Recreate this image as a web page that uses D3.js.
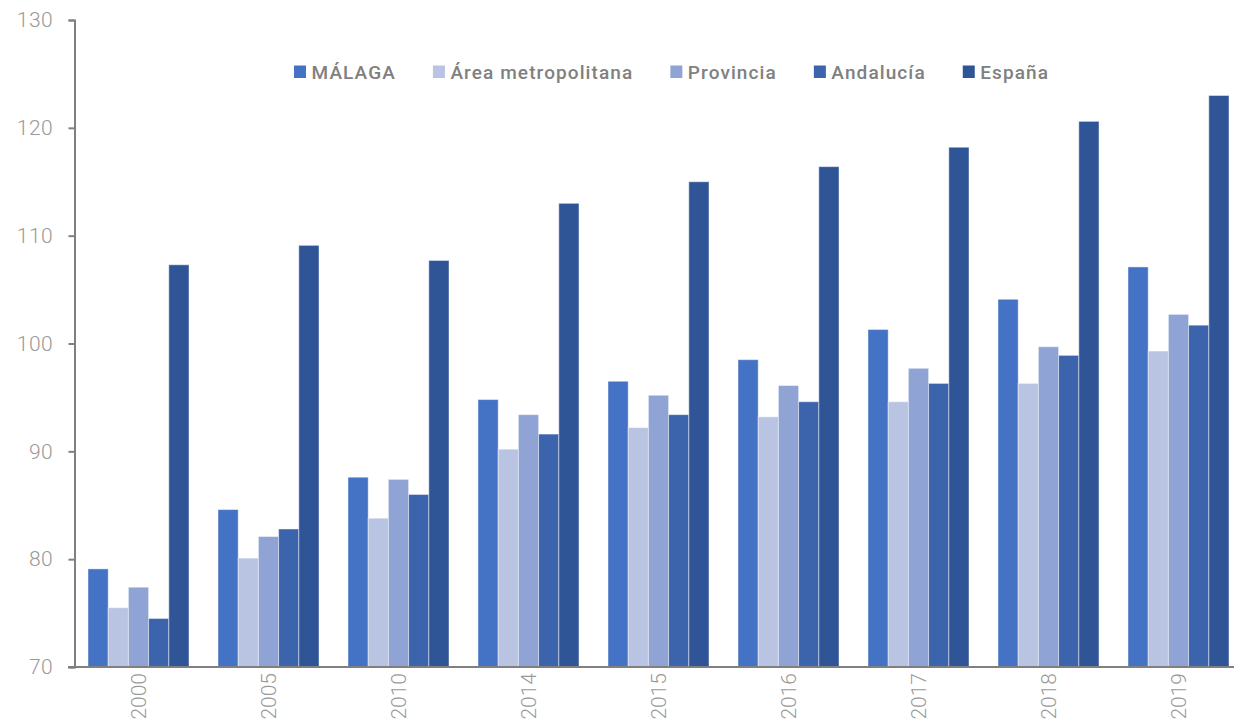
<!DOCTYPE html>
<html>
<head>
<meta charset="utf-8">
<script src="https://cdn.jsdelivr.net/npm/d3@7"></script>
<style>
  html, body { margin: 0; padding: 0; background: #fff; }
  svg { display: block; }
</style>
</head>
<body>
<svg id="chart" width="1234" height="726"></svg>
<script>
// Years on the category axis
const years = ["2000", "2005", "2010", "2014", "2015", "2016", "2017", "2018", "2019"];

// Series names, in legend / bar order
const seriesNames = ["MÁLAGA", "Área metropolitana", "Provincia", "Andalucía", "España"];

// Values per series, one per year
const malaga      = [79.1, 84.6, 87.6, 94.8, 96.5, 98.5, 101.3, 104.1, 107.1];
const areaMetro   = [75.5, 80.1, 83.8, 90.2, 92.2, 93.2, 94.6, 96.3, 99.3];
const provincia   = [77.4, 82.1, 87.4, 93.4, 95.2, 96.1, 97.7, 99.7, 102.7];
const andalucia   = [74.5, 82.8, 86.0, 91.6, 93.4, 94.6, 96.3, 98.9, 101.7];
const espana      = [107.3, 109.1, 107.7, 113.0, 115.0, 116.4, 118.2, 120.6, 123.0];

// Y axis tick values
const yTicks = [70, 80, 90, 100, 110, 120, 130];

const seriesValues = [malaga, areaMetro, provincia, andalucia, espana];
const colors = ["#4472C4", "#B9C3E2", "#8FA3D4", "#3B64AD", "#2F5597"];

const svg = d3.select("#chart");

const y = d3.scaleLinear().domain([70, 130]).range([667, 20]);

const x0 = d3.scaleBand()
  .domain(years)
  .range([73.5, 1243.5])
  .paddingInner(0.223)
  .paddingOuter(0.1115);

const x1 = d3.scaleBand()
  .domain(seriesNames)
  .range([0, x0.bandwidth()]);

const axisColor = "#808080";
const labelColor = "#999999";

// Bars
const rows = years.map((yr, i) => ({
  year: yr,
  values: seriesNames.map((s, j) => ({ name: s, value: seriesValues[j][i], color: colors[j] }))
}));

const groups = svg.append("g").selectAll("g")
  .data(rows)
  .join("g")
  .attr("transform", d => `translate(${x0(d.year)},0)`);

groups.selectAll("rect")
  .data(d => d.values)
  .join("rect")
  .attr("x", d => x1(d.name))
  .attr("width", x1.bandwidth())
  .attr("y", d => y(d.value))
  .attr("height", d => y(70) - y(d.value))
  .attr("fill", d => d.color)
  .attr("stroke", "rgba(255,255,255,0.45)")
  .attr("stroke-width", 1);

// Y axis
const yAxis = d3.axisLeft(y).tickValues(yTicks).tickSize(6).tickPadding(15.5);
const gy = svg.append("g")
  .attr("transform", "translate(74.5,0)")
  .call(yAxis);
gy.select(".domain").attr("stroke", axisColor).attr("stroke-width", 2);
gy.selectAll(".tick line").attr("stroke", axisColor).attr("stroke-width", 2);
gy.selectAll(".tick text")
  .attr("fill", labelColor)
  .style("font-family", "Roboto, sans-serif")
  .style("font-weight", 300)
  .style("font-size", "21px")
  .style("letter-spacing", "0.4px");

// X axis
const xAxis = d3.axisBottom(x0).tickSize(0).tickPadding(0).tickSizeOuter(0);
const gx = svg.append("g")
  .attr("transform", "translate(0,667)")
  .call(xAxis);
gx.select(".domain")
  .attr("stroke", axisColor)
  .attr("stroke-width", 2)
  .attr("d", "M68,0H1234");
gx.selectAll(".tick text")
  .attr("fill", labelColor)
  .style("font-family", "Roboto, sans-serif")
  .style("font-weight", 300)
  .style("font-size", "21px")
  .attr("text-anchor", "end")
  .attr("dy", "0.35em")
  .attr("transform", "translate(0,6) rotate(-90)");

// Legend
const legend = svg.append("g").attr("transform", "translate(294,0)");
let lx = 0;
seriesNames.forEach((name, i) => {
  const item = legend.append("g").attr("transform", `translate(${lx},0)`);
  item.append("rect")
    .attr("x", 0).attr("y", 65.5)
    .attr("width", 12).attr("height", 12.5)
    .attr("fill", colors[i]);
  const t = item.append("text")
    .attr("x", 17.5).attr("y", 78.5)
    .attr("fill", "#808080")
    .style("font-family", "Roboto, sans-serif")
    .style("font-weight", 500)
    .style("font-size", "19px")
    .style("letter-spacing", "1.1px")
    .text(name);
  lx += 17.5 + t.node().getComputedTextLength() + 37;
});
</script>
</body>
</html>
